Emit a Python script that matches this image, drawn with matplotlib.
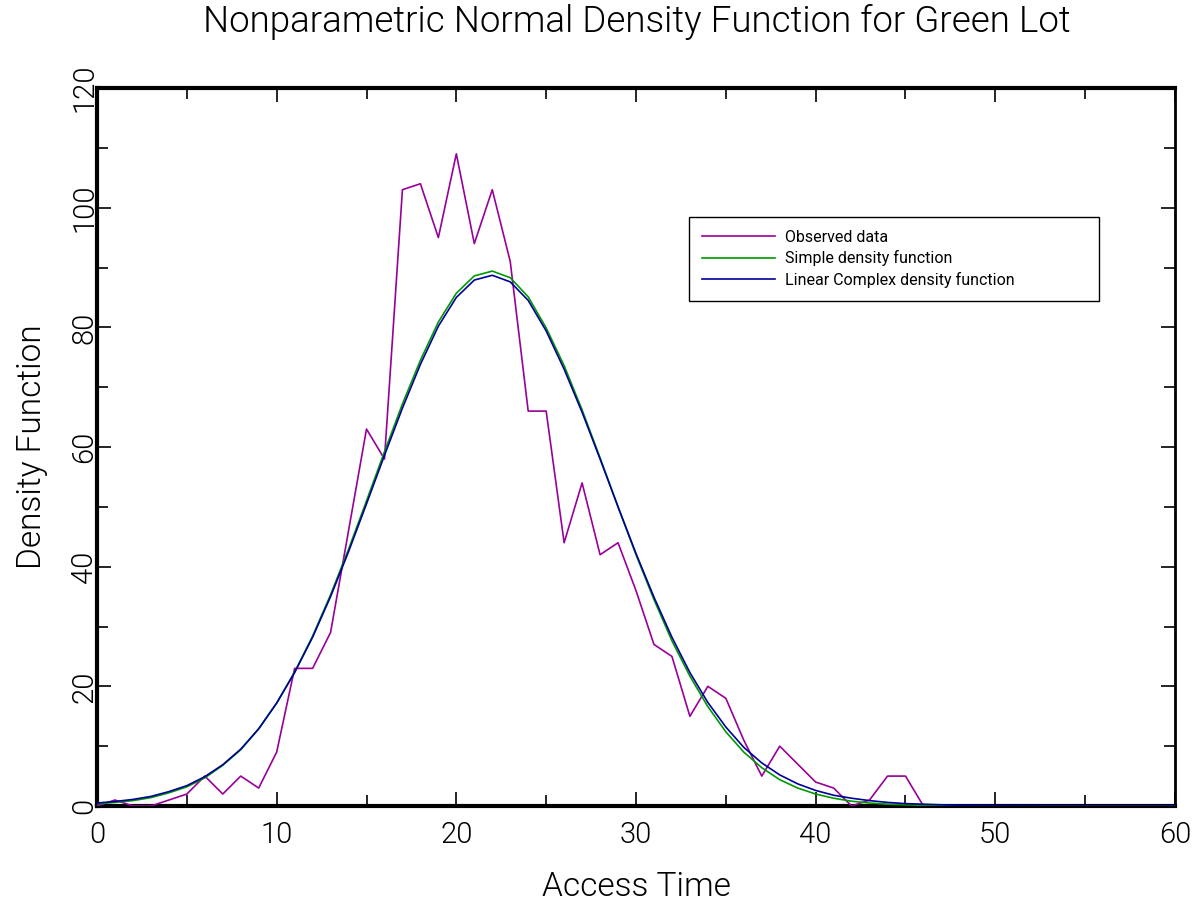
import matplotlib
matplotlib.use("Agg")
import matplotlib.pyplot as plt
from matplotlib.ticker import MultipleLocator

plt.rcParams['font.family'] = ['Roboto', 'DejaVu Sans']
plt.rcParams['font.weight'] = 300
plt.rcParams['axes.labelweight'] = 300
plt.rcParams['text.color'] = 'black'

access_time = list(range(0, 61))

observed = [0, 1, 0, 0, 1, 2, 5, 2, 5, 3,
            9, 23, 23, 29, 46, 63, 58, 103, 104, 95,
            109, 94, 103, 91, 66, 66, 44, 54, 42, 44,
            36, 27, 25, 15, 20, 18, 11, 5, 10, 7,
            4, 3, 0, 1, 5, 5, 0, 0, 0, 0,
            0, 0, 0, 0, 0, 0, 0, 0, 0, 0, 0]

simple_density = [0.35, 0.6, 0.9, 1.4, 2.2, 3.2, 4.7, 6.8, 9.4, 12.9,
                  17.2, 22.4, 28.4, 35.3, 42.9, 51.0, 59.2, 67.2, 74.5, 80.9,
                  85.7, 88.6, 89.4, 88.3, 85.1, 79.9, 73.6, 66.2, 58.2, 50.0,
                  42.0, 34.5, 27.6, 21.7, 16.6, 12.4, 9.0, 6.4, 4.4, 3.0,
                  2.0, 1.3, 0.8, 0.5, 0.3, 0.2, 0.1, 0.06, 0.03, 0.02,
                  0.01, 0, 0, 0, 0, 0, 0, 0, 0, 0, 0]

linear_complex_density = [0.5, 0.75, 1.1, 1.6, 2.4, 3.4, 4.9, 6.9, 9.5, 12.9,
                          17.2, 22.3, 28.2, 35.0, 42.5, 50.5, 58.6, 66.5, 73.8, 80.2,
                          85.0, 87.9, 88.7, 87.6, 84.5, 79.4, 73.0, 65.8, 58.0, 50.0,
                          42.2, 34.9, 28.2, 22.3, 17.3, 13.2, 9.8, 7.2, 5.2, 3.7,
                          2.6, 1.8, 1.3, 0.9, 0.6, 0.4, 0.3, 0.2, 0.12, 0.08,
                          0.05, 0.03, 0.02, 0.01, 0.01, 0, 0, 0, 0, 0, 0]

series_labels = ["Observed data", "Simple density function",
                 "Linear Complex density function"]
series_colors = ["#990099", "#009900", "#000099"]

fig = plt.figure(figsize=(11.98, 9.02), dpi=100)
ax = fig.add_axes([97 / 1198, 1 - 806 / 902, 1078 / 1198, 718 / 902])

for values, label, color in zip([observed, simple_density, linear_complex_density],
                                series_labels, series_colors):
    ax.plot(access_time, values, color=color, lw=1.2, label=label)

ax.set_xlim(0, 60)
ax.set_ylim(0, 120)

ax.xaxis.set_major_locator(MultipleLocator(10))
ax.xaxis.set_minor_locator(MultipleLocator(5))
ax.yaxis.set_major_locator(MultipleLocator(20))
ax.yaxis.set_minor_locator(MultipleLocator(10))
ax.tick_params(which='both', direction='in', top=True, right=True,
               width=1.2, color='black', labelcolor='black')
ax.tick_params(which='major', length=10)
ax.tick_params(which='minor', length=8)
ax.tick_params(axis='x', which='major', labelsize=21, pad=11)
ax.tick_params(axis='y', which='major', labelsize=21, pad=-1)
for lbl in ax.get_xticklabels() + ax.get_yticklabels():
    lbl.set_fontweight(300)
for lbl in ax.get_yticklabels():
    lbl.set_rotation(90)
    lbl.set_va('center')

for side, sp in ax.spines.items():
    sp.set_linewidth(3 if side != 'right' else 2)
    sp.set_color('black')
    sp.set_zorder(1)

ax.set_xlabel("Access Time", fontsize=24, labelpad=16, fontweight=300)
ax.set_ylabel("Density Function", fontsize=24, labelpad=16, fontweight=300)
fig.text(637 / 1198, 1 - 22 / 902, "Nonparametric Normal Density Function for Green Lot",
         ha='center', va='center', fontsize=26.5, fontweight=300)

leg = ax.legend(loc='upper left',
                bbox_to_anchor=((689 - 97) / 1078, (806 - 217) / 718,
                                (1099 - 689) / 1078, 0),
                mode='expand', frameon=True, fancybox=False,
                edgecolor='black', framealpha=1, handlelength=4.6,
                handletextpad=0.6, borderpad=0.8, labelspacing=0.35,
                borderaxespad=0, prop={'weight': 400, 'size': 11.5})
leg.get_frame().set_linewidth(1.0)

fig.savefig("out.png", dpi=100, facecolor='white')
